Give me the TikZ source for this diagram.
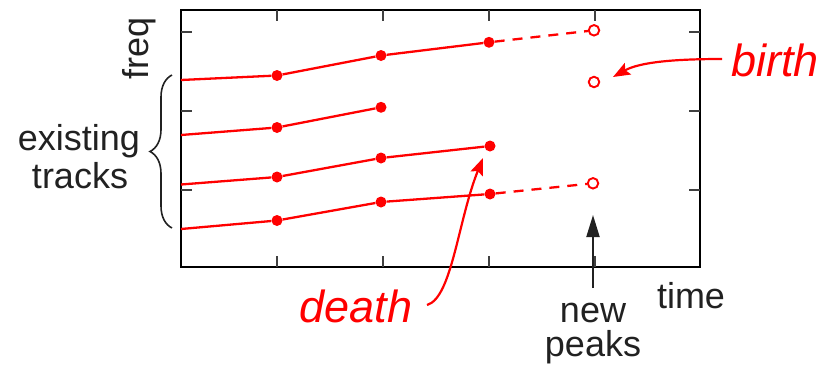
\documentclass[tikz,border=0pt]{standalone}
\usepackage{fontspec}
\setmainfont{Liberation Sans}
\usetikzlibrary{arrows.meta,decorations.pathreplacing}

\tikzset{
  pk/.style={circle, fill=red, inner sep=0pt, minimum size=11pt},
  newpk/.style={circle, draw=red, fill=white, line width=1.9pt, inner sep=0pt, minimum size=10.5pt},
  trk/.style={red, line width=2.3pt},
  newtrk/.style={red, line width=2.3pt, dash pattern=on 10pt off 8pt},
  lbl/.style={font=\fontsize{36}{38}\selectfont, text=black!87, inner sep=0pt},
  redlbl/.style={font=\fontsize{45}{50}\selectfont\itshape, text=red, inner sep=0pt},
  tck/.style={line width=1.3pt, black!75},
  redarr/.style={red, line width=2.2pt, -{Stealth[length=17pt,width=13pt,inset=3pt]}}
}

\begin{document}
\begin{tikzpicture}[x=1pt, y=-1pt]
\useasboundingbox (0,0) rectangle (825,365);

				% Frame and ticks
				\draw[line width=2.2pt] (181,10) rectangle (700,267);
				\foreach \xt in {277,383,489,595} {
					\draw[tck] (\xt,10) -- (\xt,21);
					\draw[tck] (\xt,267) -- (\xt,256);
				}
				\foreach \yt in {32,111,190} {
					\draw[tck] (181,\yt) -- (192,\yt);
					\draw[tck] (700,\yt) -- (689,\yt);
				}
				
				% Axis labels
				\node[lbl, rotate=90, anchor=base] (freq) at (148,48) {freq};
				\node[lbl, anchor=base] (time) at (691,308) {time};
				
				% Track 1 (continued)
				\coordinate (a0) at (181,80);
				\node[pk] (a1) at (277,75.5) {};
				\node[pk] (a2) at (381,55.5) {};
				\node[pk] (a3) at (489,42.3) {};
				\node[newpk] (a4) at (594,30.3) {};
				\draw[trk] (a0) -- (a1) -- (a2) -- (a3);
				\draw[newtrk] (a3) -- (a4);
				
				% Track 2 (ends)
				\coordinate (b0) at (181,135);
				\node[pk] (b1) at (277,127.5) {};
				\node[pk] (b2) at (381,107.3) {};
				\draw[trk] (b0) -- (b1) -- (b2);
				
				% Track 3 (death)
				\coordinate (c0) at (181,184.5);
				\node[pk] (c1) at (277,177) {};
				\node[pk] (c2) at (381,158) {};
				\node[pk] (c3) at (490,146) {};
				\draw[trk] (c0) -- (c1) -- (c2) -- (c3);
				
				% Track 4 (continued)
				\coordinate (d0) at (181,229);
				\node[pk] (d1) at (277,220.5) {};
				\node[pk] (d2) at (381,202) {};
				\node[pk] (d3) at (490,194) {};
				\node[newpk] (d4) at (593,183.3) {};
				\draw[trk] (d0) -- (d1) -- (d2) -- (d3);
				\draw[newtrk] (d3) -- (d4);
				
				% Birth
				\node[newpk] (e1) at (594,82) {};
				\node[redlbl, anchor=base west] (birth) at (731,76) {birth};
				\coordinate (bs) at (722,59);
				\draw[redarr] (bs) .. controls (675,59) and (640,62) .. (613,77);
				
				% Death
				\node[redlbl, anchor=base] (death) at (356,322) {death};
				\coordinate (ds) at (427,305);
				\draw[redarr] (ds) .. controls (452,298) and (458,220) .. (483,158);
				
				% New peaks
				\node[lbl, anchor=base] (newtxt) at (593,322) {new};
				\node[lbl, anchor=base] (pkstxt) at (593,356) {peaks};
				\coordinate (np0) at (593,288);
				\coordinate (np1) at (593,215);
				\draw[line width=2pt, black!87, -{Triangle[length=22pt,width=13pt]}] (np0) -- (np1);
				
				% Existing tracks
				\coordinate (br0) at (172,228);
				\coordinate (br1) at (172,75);
				\draw[line width=1.6pt, black!87, decorate, decoration={brace, amplitude=22pt}] (br0) -- (br1);
				\node[lbl, anchor=base] (exist) at (79,150) {existing};
				\node[lbl, anchor=base] (trks) at (80,188) {tracks};
\end{tikzpicture}
\end{document}
